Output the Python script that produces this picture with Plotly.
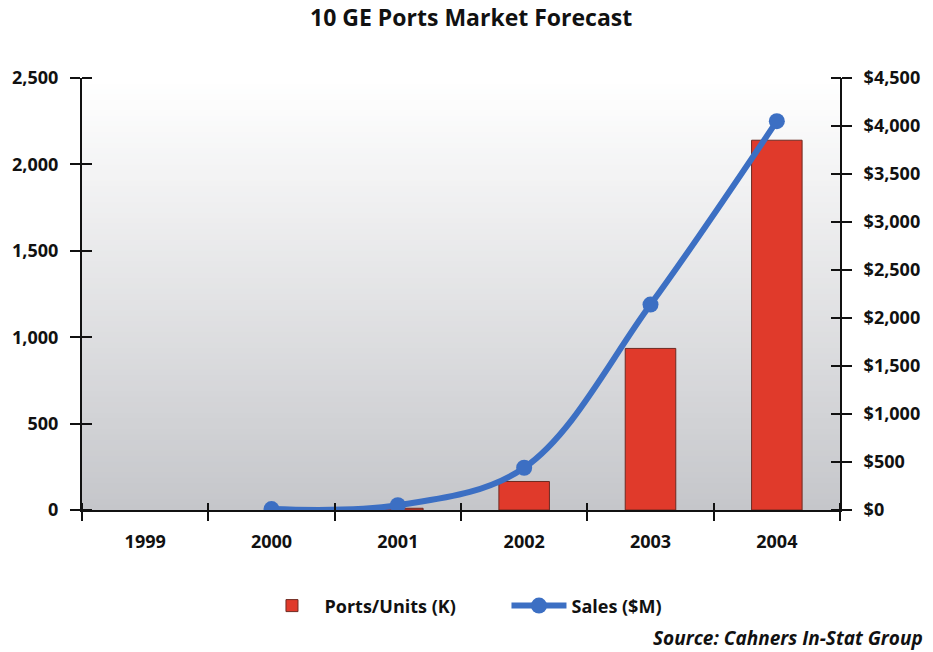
import plotly.graph_objects as go

years = ["1999", "2000", "2001", "2002", "2003", "2004"]
ports_k = [None, None, 10, 165, 935, 2140]
sales_m = [None, 10, 50, 440, 2140, 4050]
left_ticks = [0, 500, 1000, 1500, 2000, 2500]
left_labels = ["0", "500", "1,000", "1,500", "2,000", "2,500"]
right_ticks = [0, 500, 1000, 1500, 2000, 2500, 3000, 3500, 4000, 4500]
right_labels = ["$0", "$500", "$1,000", "$1,500", "$2,000", "$2,500", "$3,000", "$3,500", "$4,000", "$4,500"]

FONT = "Open Sans"
INK = "#111111"
PLOT_W = 933 - 82 - 93
PLOT_H = 652 - 78 - 142
fig = go.Figure()

fig.add_trace(go.Bar(
    x=years, y=ports_k, name="Ports/Units (K)", width=0.4,
    marker=dict(color="#e03a2b", line=dict(color="#6e2a22", width=1)),
    xaxis="x", yaxis="y",
))
fig.add_trace(go.Scatter(
    x=years, y=sales_m, name="Sales ($M)", mode="lines+markers",
    line=dict(color="#3c6fc3", width=6, shape="spline", smoothing=1.0),
    marker=dict(color="#3c6fc3", size=16),
    xaxis="x", yaxis="y2", connectgaps=False,
))
# invisible helper traces so the extra tick axes are drawn
for xa, ya in (("x2", "y3"), ("x2", "y4")):
    fig.add_trace(go.Scatter(x=[0], y=[0], mode="markers", marker=dict(opacity=0),
                             showlegend=False, hoverinfo="skip", xaxis=xa, yaxis=ya))

# gradient background bands
n = 80
top = (255, 255, 255)
bot = (197, 198, 202)
for i in range(n):
    t0 = i / n
    t1 = (i + 1) / n
    f = (t0 + t1) / 2
    w = (1 - f) ** 1.05
    c = tuple(int(round(top[k] + (bot[k] - top[k]) * w)) for k in range(3))
    fig.add_shape(type="rect", xref="x domain", yref="y domain",
                  x0=0, x1=1, y0=t0, y1=t1 + 0.002, layer="below",
                  line=dict(width=0), fillcolor="rgb(%d,%d,%d)" % c)

tickfont = dict(family=FONT, size=18, color=INK, weight="bold")

fig.update_layout(
    width=933, height=652,
    margin=dict(l=82, r=93, t=78, b=142),
    paper_bgcolor="white", plot_bgcolor="white",
    title=dict(text="<b>10 GE Ports Market Forecast</b>", x=0.505, xanchor="center",
               y=0.972, yanchor="middle",
               font=dict(family=FONT, size=23, color=INK)),
    showlegend=True,
    legend=dict(orientation="h", x=0.56, xanchor="center", y=-0.222, yanchor="middle",
                font=dict(family=FONT, size=18, color=INK, weight="bold"),
                bgcolor="rgba(0,0,0,0)", itemwidth=55, traceorder="normal",
                entrywidth=177),
    bargap=0.6,
    xaxis=dict(type="category", categoryorder="array", categoryarray=years,
               range=[-0.5, 5.5], showline=True, linecolor=INK, linewidth=2,
               ticks="outside", ticklen=9, tickwidth=2, tickcolor=INK,
               tickson="boundaries", showgrid=False, zeroline=False,
               tickfont=tickfont, ticklabelstandoff=14, fixedrange=True),
    # second x axis, raised 8 px, whose outside ticks form the upper half of the crossing ticks
    xaxis2=dict(overlaying="x", anchor="free", position=8 / PLOT_H, side="bottom",
                range=[-0.5, 5.5], tick0=-0.5, dtick=1, ticks="outside", ticklen=8,
                tickwidth=2, tickcolor=INK, showticklabels=False, showline=False,
                showgrid=False, zeroline=False),
    yaxis=dict(range=[0, 2500], tickvals=left_ticks, ticktext=left_labels,
               showline=True, linecolor=INK, linewidth=2,
               ticks="outside", ticklen=10, tickwidth=2, tickcolor=INK,
               showgrid=False, zeroline=False, tickfont=tickfont, ticklabelstandoff=8),
    yaxis3=dict(overlaying="y", anchor="free", position=10 / PLOT_W, side="left",
                range=[0, 2500], tickvals=left_ticks,
                ticks="outside", ticklen=10, tickwidth=2, tickcolor=INK,
                showticklabels=False, showline=False, showgrid=False, zeroline=False),
    yaxis2=dict(overlaying="y", side="right", range=[0, 4500], tickvals=right_ticks,
                ticktext=right_labels, showline=True, linecolor=INK, linewidth=2,
                ticks="outside", ticklen=10, tickwidth=2, tickcolor=INK,
                showgrid=False, zeroline=False, tickfont=tickfont, ticklabelstandoff=8),
    yaxis4=dict(overlaying="y", anchor="free", position=1 - 10 / PLOT_W, side="right",
                range=[0, 4500], tickvals=right_ticks,
                ticks="outside", ticklen=10, tickwidth=2, tickcolor=INK,
                showticklabels=False, showline=False, showgrid=False, zeroline=False),
)

fig.add_annotation(text="<b><i>Source: Cahners In-Stat Group</i></b>", xref="paper", yref="paper",
                   x=1.112, y=-0.296, xanchor="right", yanchor="middle", showarrow=False,
                   font=dict(family=FONT, size=19, color=INK))

fig.write_html("out.html")
